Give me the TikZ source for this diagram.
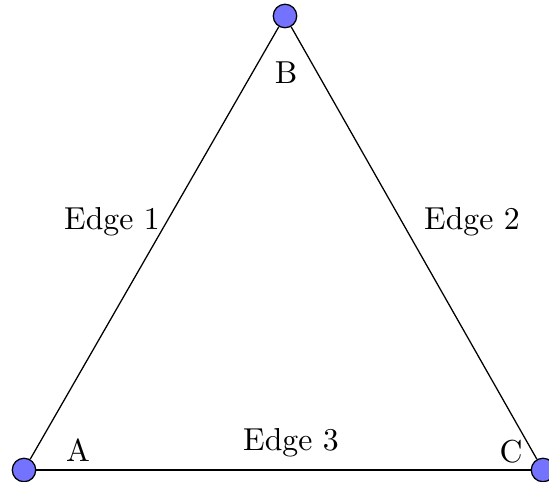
\documentclass[tikz,border=0pt]{standalone}
\begin{document}
\begin{tikzpicture}[x=0.315pt,y=-0.315pt,
  vert/.style={circle,draw=black,fill=blue!55,inner sep=0pt,minimum size=7.4pt},
  lbl/.style={inner sep=0pt}]
\useasboundingbox (0,0) rectangle (549,482);
\node[vert] (A) at (24,470) {};
\node[vert] (B) at (285,16) {};
\node[vert] (C) at (543,470) {};
\draw (A) -- (B);
\draw (B) -- (C);
\draw (A) -- (C);
\node[lbl] (la) at (78,450) {A};
\node[lbl] (lb) at (286,73) {B};
\node[lbl] (lc) at (511,452) {C};
\node[lbl] (e1) at (112,222) {Edge 1};
\node[lbl] (e2) at (472,222) {Edge 2};
\node[lbl] (e3) at (291,443) {Edge 3};
\end{tikzpicture}
\end{document}
